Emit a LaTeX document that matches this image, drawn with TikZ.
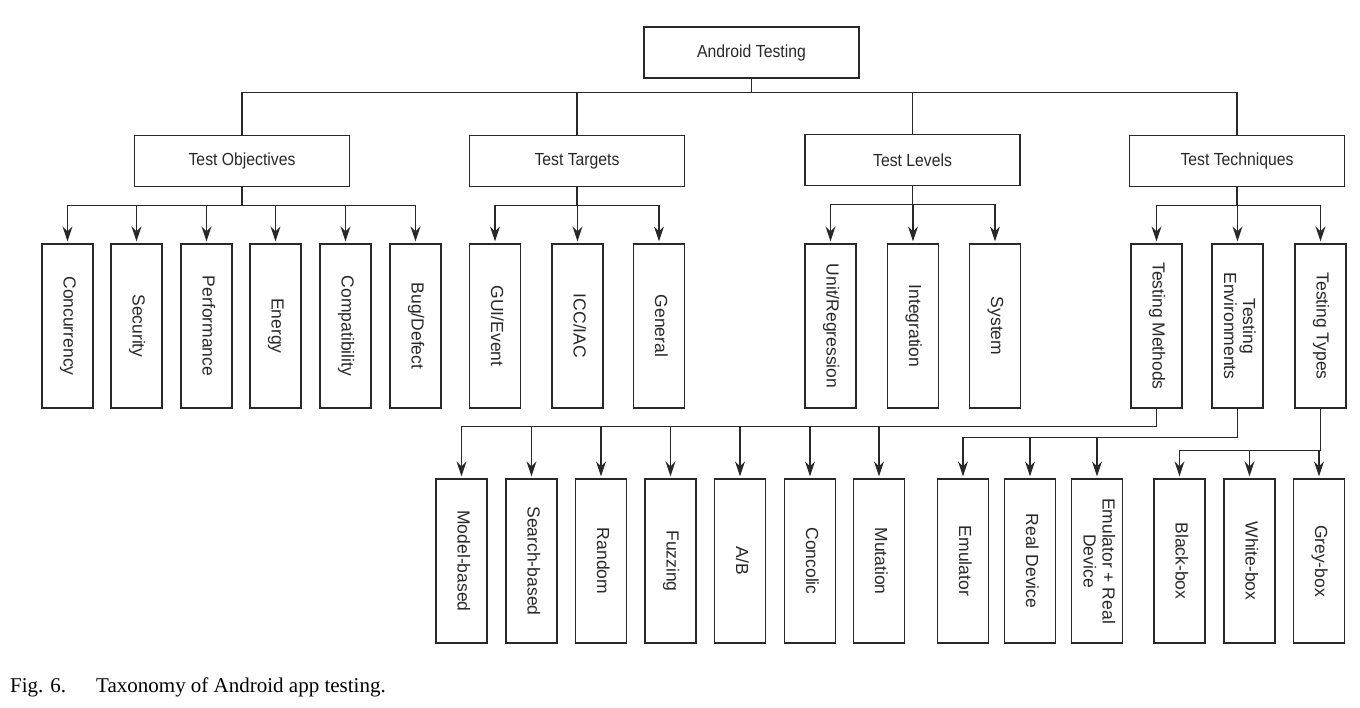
\documentclass[tikz,border=0pt]{standalone}
\usepackage{fontspec}
\setmainfont{Liberation Serif}
\newfontfamily\diagfont[FakeStretch=0.9]{Liberation Sans}
\newfontfamily\leaffont{Liberation Sans}
\usepackage{graphicx}
\usepackage{xcolor}
\usetikzlibrary{arrows.meta}
\definecolor{linegray}{RGB}{40,40,40}
\newcommand{\vtext}[1]{\rotatebox{-90}{\begin{tabular}{@{}c@{}}#1\end{tabular}}}

\begin{document}
\begin{tikzpicture}[x=1pt,y=-1pt,
  catbox/.style={draw=linegray,line width=1.3pt,minimum width=215pt,minimum height=51pt,inner sep=0pt,
    font=\diagfont\fontsize{17.5}{19}\selectfont,text=linegray},
  leafbox/.style={draw=linegray,line width=1.3pt,minimum width=51pt,minimum height=164pt,inner sep=0pt,
    font=\leaffont\fontsize{17.5}{19}\selectfont,text=linegray},
  link/.style={draw=linegray,line width=1.3pt},
  arrowlink/.style={link,-{Stealth[length=15pt,width=10pt,inset=5pt]},shorten >=2pt}]
\useasboundingbox (0,0) rectangle (1360,707);
%\draw[red] (0,0) rectangle (1360,707);
\node[catbox] (root) at (751.5,52.5) {Android Testing};
\node[catbox] (obj) at (242,161) {Test Objectives};
\node[catbox] (tgt) at (577,161) {Test Targets};
\node[catbox] (lvl) at (912.5,160) {Test Levels};
\node[catbox] (tech) at (1237,161) {Test Techniques};
\draw[link] (root.south) -- ++(0,14) -| (obj.north);
\draw[link] (root.south) -- ++(0,14) -| (tgt.north);
\draw[link] (root.south) -- ++(0,14) -| (lvl.north);
\draw[link] (root.south) -- ++(0,14) -| (tech.north);
% objectives
\node[leafbox] (conc) at (67.5,326) {\vtext{Concurrency}};
\node[leafbox] (sec) at (136.5,326) {\vtext{Security}};
\node[leafbox] (perf) at (206.5,326) {\vtext{Performance}};
\node[leafbox] (energy) at (275.5,326) {\vtext{Energy}};
\node[leafbox] (compat) at (345.5,326) {\vtext{Compatibility}};
\node[leafbox] (bug) at (415.5,326) {\vtext{Bug/Defect}};
\draw[arrowlink] (obj.south) -- ++(0,18) -| (conc.north);
\draw[arrowlink] (obj.south) -- ++(0,18) -| (sec.north);
\draw[arrowlink] (obj.south) -- ++(0,18) -| (perf.north);
\draw[arrowlink] (obj.south) -- ++(0,18) -| (energy.north);
\draw[arrowlink] (obj.south) -- ++(0,18) -| (compat.north);
\draw[arrowlink] (obj.south) -- ++(0,18) -| (bug.north);
% targets
\node[leafbox] (gui) at (495,326) {\vtext{GUI/Event}};
\node[leafbox] (icc) at (577.5,326) {\vtext{ICC/IAC}};
\node[leafbox] (gen) at (659,326) {\vtext{General}};
\draw[arrowlink] (tgt.south) -- ++(0,18) -| (gui.north);
\draw[arrowlink] (tgt.south) -- ++(0,18) -| (icc.north);
\draw[arrowlink] (tgt.south) -- ++(0,18) -| (gen.north);
% levels
\node[leafbox] (unit) at (830.5,326) {\vtext{Unit/Regression}};
\node[leafbox] (integ) at (913,326) {\vtext{Integration}};
\node[leafbox] (sys) at (995,326) {\vtext{System}};
\draw[arrowlink] (lvl.south) -- ++(0,18) -| (unit.north);
\draw[arrowlink] (lvl.south) -- ++(0,18) -| (integ.north);
\draw[arrowlink] (lvl.south) -- ++(0,18) -| (sys.north);
% techniques
\node[leafbox] (meth) at (1156.5,326) {\vtext{Testing Methods}};
\node[leafbox] (env) at (1237.5,326) {\vtext{Testing\\Environments}};
\node[leafbox] (types) at (1320.5,326) {\vtext{Testing Types}};
\draw[arrowlink] (tech.south) -- ++(0,18) -| (meth.north);
\draw[arrowlink] (tech.south) -- ++(0,18) -| (env.north);
\draw[arrowlink] (tech.south) -- ++(0,18) -| (types.north);
% methods
\node[leafbox] (model) at (461.5,561) {\vtext{Model-based}};
\node[leafbox] (search) at (531.5,561) {\vtext{Search-based}};
\node[leafbox] (rand) at (601,561) {\vtext{Random}};
\node[leafbox] (fuzz) at (670.5,561) {\vtext{Fuzzing}};
\node[leafbox] (ab) at (740,561) {\vtext{A/B}};
\node[leafbox] (concolic) at (810,561) {\vtext{Concolic}};
\node[leafbox] (mut) at (879,561) {\vtext{Mutation}};
\draw[arrowlink] (meth.south) -- ++(0,18) -| (model.north);
\draw[arrowlink] (meth.south) -- ++(0,18) -| (search.north);
\draw[arrowlink] (meth.south) -- ++(0,18) -| (rand.north);
\draw[arrowlink] (meth.south) -- ++(0,18) -| (fuzz.north);
\draw[arrowlink] (meth.south) -- ++(0,18) -| (ab.north);
\draw[arrowlink] (meth.south) -- ++(0,18) -| (concolic.north);
\draw[arrowlink] (meth.south) -- ++(0,18) -| (mut.north);
% environments
\node[leafbox] (emu) at (963,561) {\vtext{Emulator}};
\node[leafbox] (real) at (1030,561) {\vtext{Real Device}};
\node[leafbox] (emureal) at (1097,561) {\vtext{Emulator + Real\\Device}};
\draw[arrowlink] (env.south) -- ++(0,29) -| (emu.north);
\draw[arrowlink] (env.south) -- ++(0,29) -| (real.north);
\draw[arrowlink] (env.south) -- ++(0,29) -| (emureal.north);
% types
\node[leafbox] (black) at (1179.5,561) {\vtext{Black-box}};
\node[leafbox] (white) at (1249.5,561) {\vtext{White-box}};
\node[leafbox] (grey) at (1319,561) {\vtext{Grey-box}};
\draw[arrowlink] (types.south) -- ++(0,42) -| (black.north);
\draw[arrowlink] (types.south) -- ++(0,42) -| (white.north);
\draw[arrowlink] (types.south) -- ++(0,42) -| (grey.north);
\node[anchor=base west,inner sep=0pt,font=\fontsize{21}{25}\selectfont] (caption) at (10,692)
  {Fig. 6.\hspace{30pt}Taxonomy of Android app testing.};
\end{tikzpicture}
\end{document}
